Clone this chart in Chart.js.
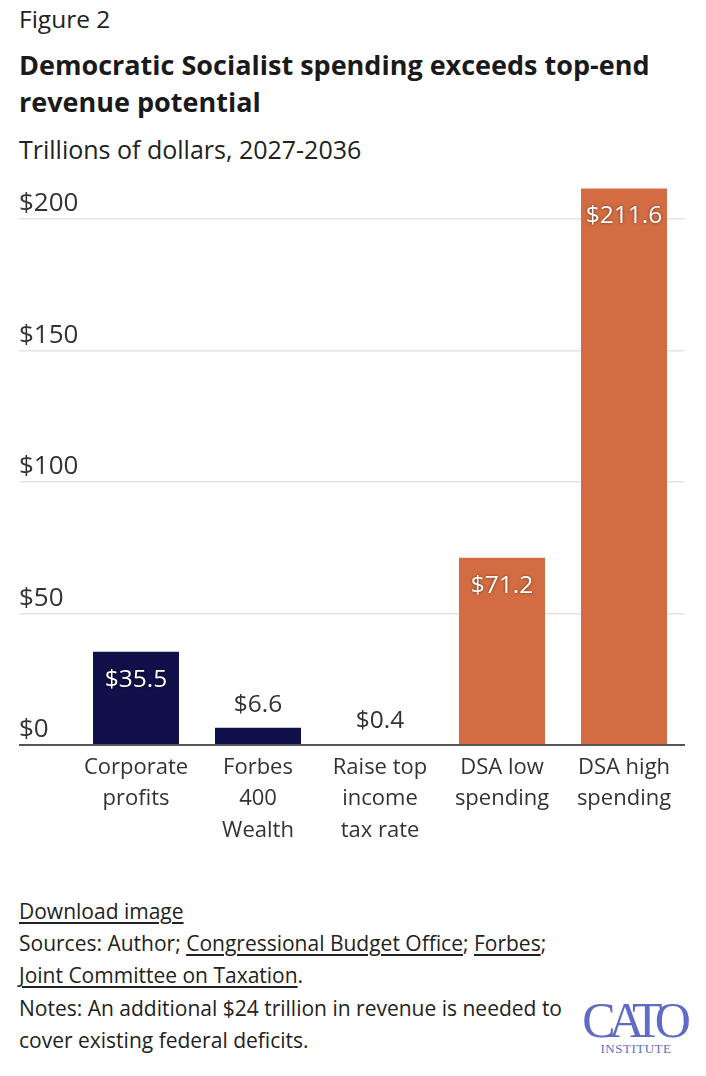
<!DOCTYPE html>
<html lang="en">
<head>
<meta charset="UTF-8">
<title>Democratic Socialist spending exceeds top-end revenue potential</title>
<style>
  html, body { margin: 0; padding: 0; background: #fff; }
  body { width: 706px; height: 1076px; position: relative; font-family: "Open Sans", Roboto, sans-serif; color: #222; overflow: hidden; }
  .abs { position: absolute; left: 19px; white-space: nowrap; }
  #fig { top: 3px; font-size: 24.5px; line-height: 32px; }
  #title { top: 46px; font-size: 27px; line-height: 37px; font-weight: 700; color: #1a1a1a; }
  #subtitle { top: 133px; font-size: 25px; line-height: 32px; }
  #chartBox { position: absolute; left: 0; top: 160px; width: 706px; height: 700px; }
  #footer { top: 895px; font-size: 21px; line-height: 32.2px; color: #222; }
  #footer a { color: #222; text-decoration: underline; text-underline-offset: 3px; }
  #logo { position: absolute; left: 584px; top: 998px; width: 104px; color: #5f6bc6; text-align: center; font-family: "Liberation Serif", "DejaVu Serif", serif; }
  #logo .cato { font-size: 50px; line-height: 44px; letter-spacing: -7px; margin-left: -6px; }
  #logo .inst { font-size: 13px; line-height: 14px; letter-spacing: 0.5px; }
</style>
</head>
<body>
  <div class="abs" id="fig">Figure 2</div>
  <div class="abs" id="title">Democratic Socialist spending exceeds top-end<br>revenue potential</div>
  <div class="abs" id="subtitle">Trillions of dollars, 2027-2036</div>
  <div id="chartBox"><canvas id="myChart"></canvas></div>
  <div class="abs" id="footer">
    <a>Download image</a><br>
    Sources: Author; <a>Congressional Budget Office</a>; <a>Forbes</a>;<br>
    <a>Joint Committee on Taxation</a>.<br>
    Notes: An additional $24 trillion in revenue is needed to<br>
    cover existing federal deficits.
  </div>
  <div id="logo"><div class="cato">CATO</div><div class="inst">INSTITUTE</div></div>

  <script src="https://cdn.jsdelivr.net/npm/chart.js"></script>
  <script>
    // chart data
    const categories = [
      ['Corporate', 'profits'],
      ['Forbes', '400', 'Wealth'],
      ['Raise top', 'income', 'tax rate'],
      ['DSA low', 'spending'],
      ['DSA high', 'spending']
    ];
    const values = [35.5, 6.6, 0.4, 71.2, 211.6];
    const barColors = ['#10104a', '#10104a', '#10104a', '#d36c42', '#d36c42'];
    const yTicks = [0, 50, 100, 150, 200];

    const fontFamily = '"Open Sans", Roboto, sans-serif';

    // y tick labels sit above their gridlines, left aligned with the page text
    const yLabels = {
      id: 'yLabels',
      afterDraw(chart) {
        const ctx = chart.ctx;
        const y = chart.scales.y;
        ctx.save();
        ctx.font = '26px ' + fontFamily;
        ctx.fillStyle = '#333333';
        ctx.textAlign = 'left';
        ctx.textBaseline = 'middle';
        yTicks.forEach(v => {
          ctx.fillText('$' + v, y.left, y.getPixelForValue(v) - 15);
        });
        ctx.restore();
      }
    };

    // value labels: inside the bar when it is tall enough, above it otherwise
    const valueLabels = {
      id: 'valueLabels',
      afterDatasetsDraw(chart) {
        const ctx = chart.ctx;
        const meta = chart.getDatasetMeta(0);
        ctx.save();
        ctx.font = '24.5px ' + fontFamily;
        ctx.textAlign = 'center';
        ctx.textBaseline = 'middle';
        meta.data.forEach((bar, i) => {
          const v = values[i];
          const text = '$' + v.toFixed(1);
          if (v > 20) {
            ctx.shadowColor = 'rgba(0,0,0,0.55)';
            ctx.shadowBlur = 3;
            ctx.fillStyle = '#ffffff';
            ctx.fillText(text, bar.x, bar.y + 28);
          } else {
            ctx.shadowColor = 'transparent';
            ctx.fillStyle = '#333333';
            ctx.fillText(text, bar.x, bar.y - 23);
          }
        });
        ctx.restore();
      }
    };

    const ctx = document.getElementById('myChart').getContext('2d');
    new Chart(ctx, {
      type: 'bar',
      data: {
        labels: categories,
        datasets: [{
          data: values,
          backgroundColor: barColors,
          borderWidth: 0,
          categoryPercentage: 1,
          barPercentage: 0.705,
          minBarLength: 1
        }]
      },
      options: {
        responsive: true,
        maintainAspectRatio: false,
        animation: false,
        layout: { padding: { left: 19, right: 21, top: 19.5, bottom: 15 } },
        plugins: { legend: { display: false }, tooltip: { enabled: false } },
        scales: {
          x: {
            grid: { display: false, drawTicks: false },
            border: { display: false },
            afterFit: (scale) => { scale.height = 100; },
            ticks: {
              color: '#333',
              padding: 7,
              font: { family: fontFamily, size: 22, lineHeight: 1.43 }
            }
          },
          y: {
            min: 0,
            max: 215,
            afterFit: (scale) => { scale.width = 56; },
            afterBuildTicks: (scale) => { scale.ticks = yTicks.map(v => ({ value: v })); },
            border: { display: false },
            grid: {
              drawTicks: true,
              tickLength: 56,
              lineWidth: (c) => c.tick && c.tick.value === 0 ? 2 : 1.5,
              color: (c) => c.tick && c.tick.value === 0 ? '#555555' : '#e4e4e4'
            },
            ticks: { display: false }
          }
        }
      },
      plugins: [valueLabels, yLabels]
    });
  </script>
</body>
</html>
